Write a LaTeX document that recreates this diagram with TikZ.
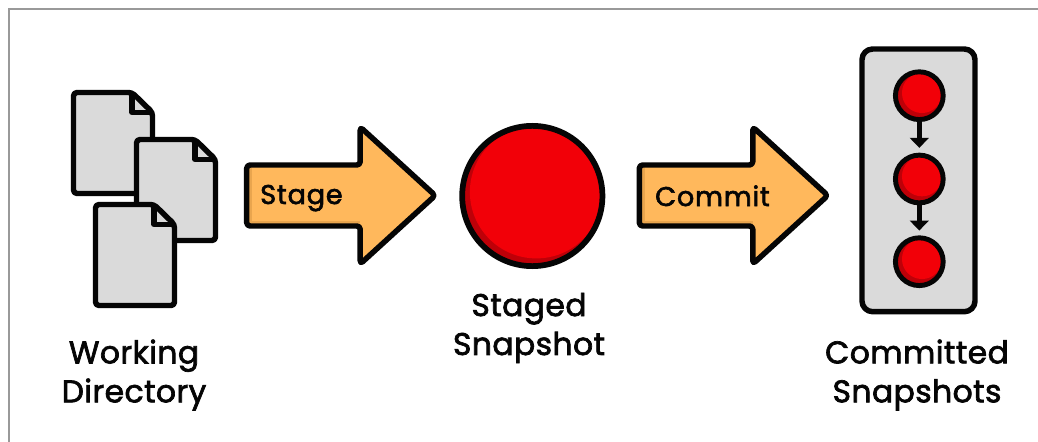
\documentclass[tikz,border=0pt]{standalone}
\usepackage{fontspec}
\setmainfont{Poppins}
\newfontfamily\capfont[FakeBold=2.2,LetterSpace=1.5]{Poppins}
\newfontfamily\arrfont[FakeBold=2.2,LetterSpace=3]{Poppins}
\usetikzlibrary{arrows.meta}
\definecolor{pagegray}{HTML}{DADADA}
\definecolor{pageedge}{HTML}{C2C2C2}
\definecolor{redmain}{HTML}{F20008}
\definecolor{reddark}{HTML}{BE0008}
\definecolor{amber}{HTML}{FFB85C}
\definecolor{amberedge}{HTML}{E9A54E}
\definecolor{framegray}{HTML}{999999}
\definecolor{inkblack}{HTML}{050505}
\tikzset{
  ink/.style={draw=inkblack,line width=4.1pt,line join=round},
  bigdot/.style={circle,draw=inkblack,line width=4.3pt,minimum size=105.2pt,inner sep=0pt,fill=reddark,
    path picture={\fill[redmain] ([xshift=3pt,yshift=3pt]path picture bounding box.center) circle (49.8pt);}},
  smalldot/.style={circle,draw=inkblack,line width=3.7pt,minimum size=35.8pt,inner sep=0pt,fill=reddark,
    path picture={\fill[redmain] ([xshift=2pt,yshift=2pt]path picture bounding box.center) circle (15pt);}},
  caption/.style={align=center,inner sep=0pt,text=inkblack,font=\capfont\fontsize{23.5}{29.2}\selectfont},
  arrowtext/.style={inner sep=0pt,anchor=base west,text=inkblack,font=\arrfont\fontsize{20.3}{22}\selectfont},
  link/.style={draw=inkblack,line width=3.3pt,-{Triangle[length=7.5pt,width=14pt]},shorten >=3.6pt}
}
\newcommand{\docpage}[2]{%
  \begin{scope}[shift={(#1,#2)}]
    \def\pg{[rounded corners=2.6pt] (0,0) -- (58.5,0) -- (79,20) -- (79,101) -- (0,101) -- cycle}
    \fill[pageedge] \pg;
    \begin{scope}
      \clip \pg;
      \fill[pagegray] (2.5,-3) rectangle (82,98.5);
    \end{scope}
    \draw[ink] \pg;
    \draw[ink] (58.5,0) -- (58.5,20) -- (79,20);
  \end{scope}}
\newcommand{\bigarrow}[1]{%
  \begin{scope}[shift={(#1,0)}]
    \def\ar{(0,165) -- (113.5,165) -- (113.5,127) -- (188.5,195.5) -- (113.5,264) -- (113.5,226) -- (0,226) -- cycle}
    \fill[amber] \ar;
    \fill[amberedge] (0,165) rectangle (5.5,226);
    \fill[amberedge] (0,220.5) rectangle (113.5,226);
    \draw[ink,rounded corners=2.5pt] \ar;
  \end{scope}}
\begin{document}
\begin{tikzpicture}[x=0.75pt,y=-0.75pt]
  \useasboundingbox (0,0) rectangle (1038,442);
  \fill[white] (0,0) rectangle (1038,442);
  \draw[framegray,line width=1.5pt] (9,442) -- (9,9) -- (1038,9);

  \docpage{73.5}{92.5}
  \docpage{136.5}{139.5}
  \docpage{95.5}{204.5}
  \node[caption] (wd) at (134,375) {Working\\Directory};

  \bigarrow{246.7}
  \node[arrowtext] (stage) at (260,204) {Stage};

  \node[bigdot] (staged) at (532.3,196) {};
  \node[caption] (ss) at (529,328) {Staged\\Snapshot};

  \bigarrow{639.3}
  \node[arrowtext] (commit) at (655,206) {Commit};

  \draw[ink,fill=pagegray,rounded corners=8pt] (862,49) rectangle (975,311.7);
  \node[smalldot] (c1) at (919.3,95.7) {};
  \node[smalldot] (c2) at (919.3,179) {};
  \node[smalldot] (c3) at (919.3,261.7) {};
  \draw[link] (c1) -- (c2);
  \draw[link] (c2) -- (c3);
  \node[caption] (cs) at (917,375) {Committed\\Snapshots};
\end{tikzpicture}
\end{document}
